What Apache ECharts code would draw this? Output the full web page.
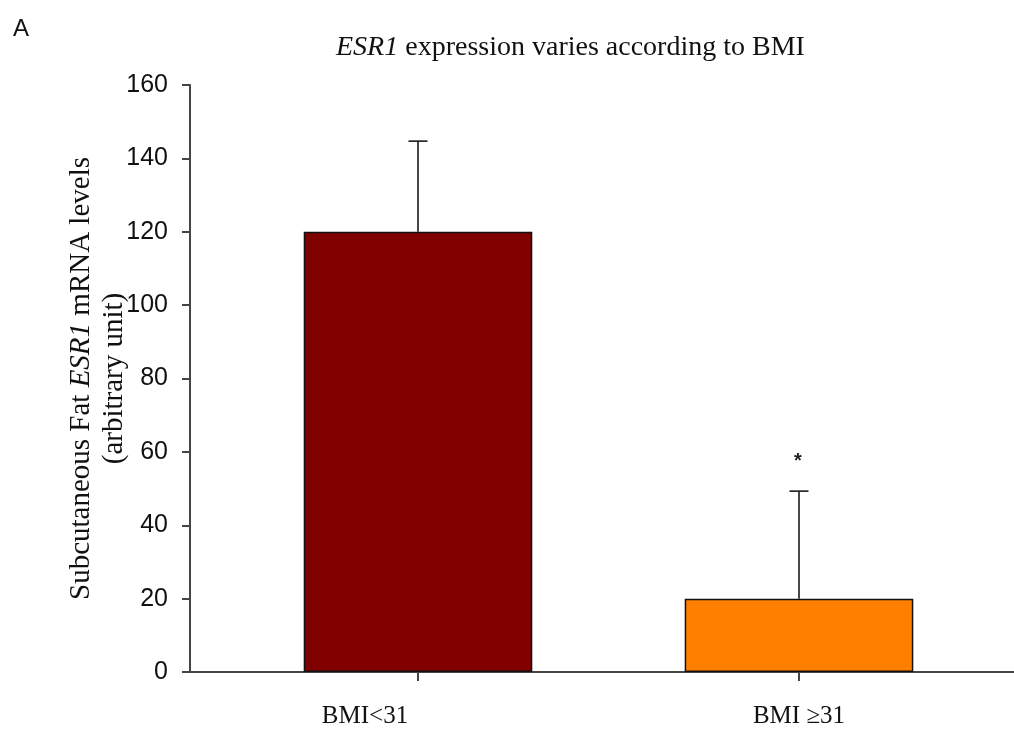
<!DOCTYPE html>
<html><head><meta charset="utf-8">
<script src="https://cdn.jsdelivr.net/npm/echarts@6/dist/echarts.min.js"></script>
<style>html,body{margin:0;padding:0;background:#fff}#c{width:1014px;height:731px}</style>
</head><body><div id="c"></div>
<script>
var categories = ['BMI<31', 'BMI \u226531'];
var means = [120, 20];
var errors = [24.7, 29.3];
var sigMarks = ['', '*'];
var yTicks = [0, 20, 40, 60, 80, 100, 120, 140, 160];
var barColors = ['#800000', '#FF8000'];

var chart = echarts.init(document.getElementById('c'));
var serif = '"Liberation Serif", "DejaVu Serif", serif';
var sans = '"Liberation Sans", Arial, sans-serif';

var errData = categories.map(function (c, i) { return [i, means[i], means[i] + errors[i], sigMarks[i]]; });

chart.setOption({
  animation: false,
  title: [
    { text: 'A', left: 8, top: 12, textStyle: { fontFamily: sans, fontSize: 24, fontWeight: 'normal', color: '#111' } },
    { text: '{i|ESR1} expression varies according to BMI', left: 331, top: 29,
      textStyle: { fontFamily: serif, fontSize: 28, fontWeight: 'normal', color: '#111',
        rich: { i: { fontFamily: serif, fontSize: 28, fontStyle: 'italic', color: '#111' } } } }
  ],
  grid: [
    { left: 190, right: 0, top: 85, bottom: 59 },
    { left: 227.5, right: 24.5, top: 85, bottom: 59 }
  ],
  xAxis: [
    { gridIndex: 0, type: 'value', min: 0, max: 1, axisLine: { show: true, lineStyle: { color: '#444', width: 2 } },
      axisTick: { show: false }, axisLabel: { show: false }, splitLine: { show: false } },
    { gridIndex: 1, type: 'category', data: categories, axisLine: { show: false },
      axisTick: { show: true, alignWithLabel: true, length: 9, lineStyle: { color: '#444', width: 2 } },
      axisLabel: { margin: 32, fontFamily: serif, fontSize: 25, color: '#111',
        formatter: function (v, i) { return i === 0 ? '{t|' + v + '}{sp|}' : '{t|' + v + '}'; },
        rich: { t: { fontFamily: serif, fontSize: 25, color: '#111' }, sp: { width: 106 } } } }
  ],
  yAxis: [
    { gridIndex: 0, type: 'value', min: 0, max: 160, interval: 20,
      axisLine: { show: true, lineStyle: { color: '#444', width: 2 } },
      axisTick: { show: true, length: 8, lineStyle: { color: '#444', width: 2 } },
      axisLabel: { margin: 22, fontFamily: sans, fontSize: 25, color: '#111',
        formatter: function (v) { return yTicks.indexOf(v) >= 0 ? String(v) : ''; } },
      splitLine: { show: false },
      name: '{a|Subcutaneous Fat }{i|ESR1}{a| mRNA levels}\n{a|(arbitrary unit)}',
      nameLocation: 'middle', nameRotate: 90, nameGap: 59, nameMoveOverlap: false,
      nameTextStyle: { fontFamily: serif, fontSize: 29, color: '#111', lineHeight: 33, align: 'center',
        rich: { a: { fontFamily: serif, fontSize: 29, color: '#111', lineHeight: 33 },
                i: { fontFamily: serif, fontSize: 29, fontStyle: 'italic', color: '#111', lineHeight: 33 } } } },
    { gridIndex: 1, type: 'value', min: 0, max: 160, interval: 20, show: false, splitLine: { show: false } }
  ],
  series: [
    { type: 'bar', xAxisIndex: 1, yAxisIndex: 1, barWidth: '60%',
      data: means.map(function (v, i) { return { value: v, itemStyle: { color: barColors[i] } }; }),
      itemStyle: { borderColor: '#111', borderWidth: 1.5 } },
    { type: 'custom', xAxisIndex: 1, yAxisIndex: 1, z: 5, data: errData,
      renderItem: function (params, api) {
        var base = api.coord([api.value(0), api.value(1)]);
        var top = api.coord([api.value(0), api.value(2)]);
        var cap = 9.5;
        var st = { stroke: '#1a1a1a', lineWidth: 1.6 };
        var mark = errData[params.dataIndex][3];
        var children = [
          { type: 'line', shape: { x1: base[0], y1: base[1], x2: top[0], y2: top[1] }, style: st },
          { type: 'line', shape: { x1: top[0] - cap, y1: top[1], x2: top[0] + cap, y2: top[1] }, style: st }
        ];
        if (mark) {
          children.push({ type: 'text', style: { text: mark, x: top[0] - 1, y: top[1] - 40, align: 'center', verticalAlign: 'top',
            font: 'bold 20px "Liberation Sans", Arial, sans-serif', fill: '#222' } });
        }
        return { type: 'group', children: children };
      } }
  ]
});
</script></body></html>
